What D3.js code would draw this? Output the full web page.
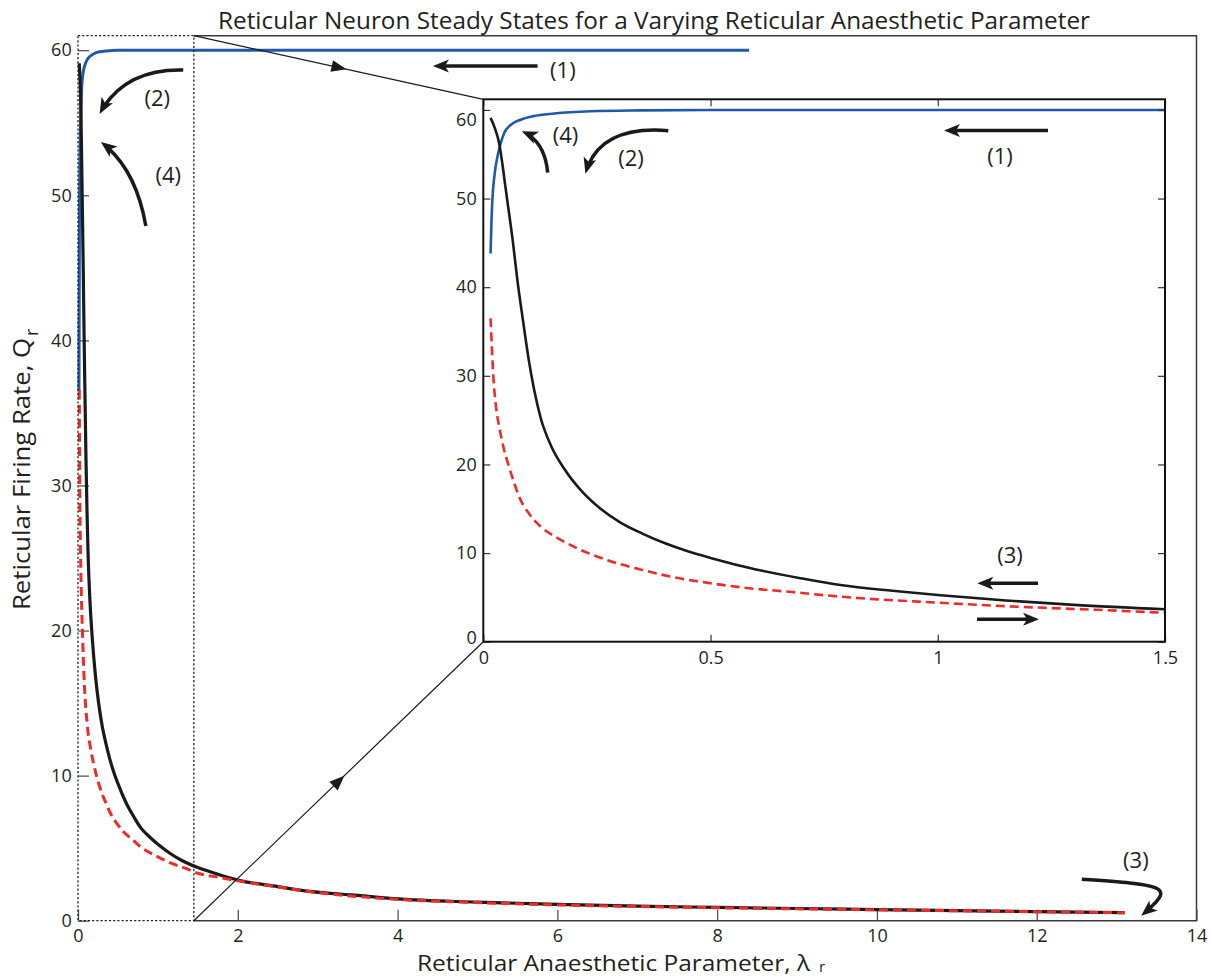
<!DOCTYPE html>
<html>
<head>
<meta charset="utf-8">
<script src="https://cdn.jsdelivr.net/npm/d3@7/dist/d3.min.js"></script>
<style>
  html, body { margin: 0; padding: 0; background: #fff; }
  svg { display: block; }
  text { font-family: "Open Sans", "Noto Sans", sans-serif; fill: #231f20; }
</style>
</head>
<body>
<svg id="chart" width="1211" height="978"></svg>
<script>
// ---------------- DATA ----------------
// Upper stable branch (blue)
const lambdaUpper = [0.016, 0.018, 0.020, 0.025, 0.031, 0.038, 0.046, 0.060, 0.082, 0.11, 0.156, 0.236, 0.35, 0.5, 1.0, 1.5, 3, 5, 8.4];
const qUpper      = [43.8, 47.5, 49.9, 52.8, 54.7, 56.2, 57.4, 58.3, 58.9, 59.3, 59.6, 59.85, 59.95, 60, 60, 60, 60, 60, 60];
// Middle unstable branch (red dashed)
const lambdaMiddle = [0.016, 0.019, 0.022, 0.028, 0.036, 0.045, 0.055, 0.068, 0.082, 0.1, 0.126, 0.16, 0.2, 0.273, 0.35, 0.419, 0.5, 0.566, 0.68, 0.786, 1.0, 1.174, 1.35, 1.5, 1.75, 2.0, 2.5, 3, 4, 5, 6, 8, 10, 12, 13.1];
const qMiddle      = [36.5, 33, 30, 26.5, 24, 21.8, 20, 17.9, 16, 14.5, 13, 11.8, 10.7, 9.2, 8.1, 7.27, 6.6, 6.14, 5.6, 5.08, 4.4, 3.95, 3.6, 3.27, 3.0, 2.75, 2.33, 1.94, 1.47, 1.25, 1.09, 0.89, 0.75, 0.62, 0.55];
// Lower stable branch (black)
const lambdaLower = [0.016, 0.025, 0.035, 0.042, 0.049, 0.056, 0.064, 0.075, 0.088, 0.1, 0.112, 0.126, 0.15, 0.177, 0.218, 0.258, 0.3, 0.35, 0.4, 0.45, 0.5, 0.6, 0.7, 0.786, 0.9, 1.0, 1.15, 1.3, 1.5, 1.75, 2.0, 2.5, 2.9, 3.5, 4, 5, 6, 7, 8, 9, 10, 11, 12, 13.1];
const qLower      = [59.1, 58.0, 56.2, 53.9, 51.2, 48.6, 45.6, 40.8, 36.0, 31.8, 28.4, 25.3, 22.0, 19.6, 16.9, 15.0, 13.5, 12.2, 11.1, 10.2, 9.45, 8.15, 7.15, 6.4, 5.75, 5.27, 4.65, 4.15, 3.66, 3.2, 2.8, 2.35, 2.02, 1.75, 1.5, 1.28, 1.12, 1.0, 0.92, 0.84, 0.77, 0.7, 0.63, 0.55];
// Saddle-node fold joining blue and red branches (main plot)
const foldPoint = [0.012, 36.5];
// Zoomed region
const zoomLambdaMax = 1.45;

// Ticks
const mainTicksX = [0, 2, 4, 6, 8, 10, 12, 14];
const mainTicksY = [0, 10, 20, 30, 40, 50, 60];
const insetTicksX = [0, 0.5, 1, 1.5];
const insetTicksY = [0, 10, 20, 30, 40, 50, 60];

// Texts
const titleText = "Reticular Neuron Steady States for a Varying Reticular Anaesthetic Parameter";
const xLabelText = "Reticular Anaesthetic Parameter, \u03BB";
const yLabelText = "Reticular Firing Rate, Q";
const subText = "r";

// Annotation arrows (data coordinates)
const mainArrows = [
  { label: "(1)", pts: [[5.752, 58.92], [4.455, 58.92]], lab: [6.069, 58.52] },
  { label: "(2)", pts: [[1.317, 58.64], [0.583, 58.74], [0.276, 55.67]], lab: [0.991, 56.58] },
  { label: "(4)", pts: [[0.849, 47.88], [0.727, 51.81], [0.297, 53.63]], lab: [1.129, 51.23] },
  { label: "(3)", pts: [[12.564, 2.854], [13.63, 2.461], [13.755, 2.392], [13.317, 0.393]], lab: [13.241, 4.046] }
];
const insetArrows = [
  { label: "(1)", pts: [[1.2425, 57.67], [1.0159, 57.67]], lab: [1.137, 54.62] },
  { label: "(4)", pts: [[0.1417, 52.92], [0.1353, 56.47], [0.0867, 57.54]], lab: [0.1809, 56.98] },
  { label: "(2)", pts: [[0.4071, 57.66], [0.2559, 58.30], [0.2253, 52.92]], lab: [0.325, 54.35] },
  { label: "(3)", pts: [[1.2206, 6.589], [1.0892, 6.589]], lab: [1.1589, 9.5] },
  { label: "",    pts: [[1.0863, 2.527], [1.2206, 2.527]], lab: null }
];

// ---------------- DRAW ----------------
const svg = d3.select("#chart");
svg.append("rect").attr("width", 1211).attr("height", 978).attr("fill", "#fff");

const BLUE = "#1f5aa8", RED = "#ee2b2b", BLACK = "#1a1a1a";

const xMain = d3.scaleLinear().domain([0, 14]).range([78, 1196.5]);
const yMain = d3.scaleLinear().domain([0, 61]).range([920.7, 35.7]);
const xIn = d3.scaleLinear().domain([0, 1.5]).range([483.3, 1165]);
const yIn = d3.scaleLinear().domain([0, 61.2]).range([641.7, 99.3]);

const zip = (a, b) => a.map((v, i) => [v, b[i]]);
const upper = zip(lambdaUpper, qUpper);
const middle = zip(lambdaMiddle, qMiddle);
const lower = zip(lambdaLower, qLower);

const defs = svg.append("defs");
defs.append("marker").attr("id", "ah")
  .attr("markerUnits", "userSpaceOnUse")
  .attr("viewBox", "-16 -8 18 16").attr("refX", 0).attr("refY", 0)
  .attr("markerWidth", 18).attr("markerHeight", 16).attr("orient", "auto")
  .append("path").attr("d", "M1,0 L-15,-6.5 L-11,0 L-15,6.5 Z").attr("fill", BLACK);
defs.append("clipPath").attr("id", "insetClip").append("rect")
  .attr("x", xIn(0)).attr("y", yIn(61.2)).attr("width", xIn(1.5) - xIn(0)).attr("height", yIn(0) - yIn(61.2));

// ---------- Main plot ----------
const gMain = svg.append("g");
const lineMain = d3.line().x(d => xMain(d[0])).y(d => yMain(d[1])).curve(d3.curveMonotoneX);

const x0 = xMain(0), x1 = xMain(14), y0 = yMain(0), y1 = yMain(61), xz = xMain(zoomLambdaMax);
gMain.append("path")
  .attr("d", `M${xz},${y1} L${x1},${y1} L${x1},${y0} L${xz},${y0}`)
  .attr("fill", "none").attr("stroke", "#3a3a3a").attr("stroke-width", 1.5);

const axMainX = gMain.append("g").attr("transform", `translate(0,${y0})`)
  .call(d3.axisBottom(xMain).tickValues(mainTicksX).tickSize(-11).tickPadding(8.5).tickFormat(d => String(d)));
const axMainY = gMain.append("g").attr("transform", `translate(${x0},0)`)
  .call(d3.axisLeft(yMain).tickValues(mainTicksY).tickSize(-11).tickPadding(6.3).tickFormat(d => String(d)));
[axMainX, axMainY].forEach(ax => {
  ax.select(".domain").remove();
  ax.selectAll("line").attr("stroke", "#555").attr("stroke-width", 1.3);
  ax.selectAll("text").attr("font-size", 18).attr("fill", "#231f20")
    .attr("font-family", '"Open Sans", sans-serif');
});

gMain.append("path").datum([foldPoint].concat(upper)).attr("d", lineMain)
  .attr("fill", "none").attr("stroke", BLUE).attr("stroke-width", 3).attr("stroke-linejoin", "round");
gMain.append("path").datum(lower).attr("d", lineMain)
  .attr("fill", "none").attr("stroke", BLACK).attr("stroke-width", 3.2).attr("stroke-linejoin", "round");
gMain.append("path").datum([foldPoint].concat(middle)).attr("d", lineMain)
  .attr("fill", "none").attr("stroke", RED).attr("stroke-width", 3).attr("stroke-dasharray", "9,5");

gMain.append("rect").attr("x", x0).attr("y", y1).attr("width", xz - x0).attr("height", y0 - y1)
  .attr("fill", "none").attr("stroke", "#222").attr("stroke-width", 1.3).attr("stroke-dasharray", "2.2,2");

// ---------- Connectors ----------
const connectors = [
  [[xz, y1], [xIn(0), yIn(61.2)]],
  [[xz, y0], [xIn(0), yIn(0)]]
];
connectors.forEach(([a, b]) => {
  svg.append("line").attr("x1", a[0]).attr("y1", a[1]).attr("x2", b[0]).attr("y2", b[1])
    .attr("stroke", BLACK).attr("stroke-width", 1.2);
  const ang = Math.atan2(b[1] - a[1], b[0] - a[0]) * 180 / Math.PI;
  const mx = (a[0] + b[0]) / 2, my = (a[1] + b[1]) / 2;
  svg.append("path").attr("d", "M8,0 L-7,-6 L-7,6 Z").attr("fill", BLACK)
    .attr("transform", `translate(${mx},${my}) rotate(${ang})`);
});

// ---------- Inset ----------
const gIn = svg.append("g");
gIn.append("rect").attr("x", xIn(0)).attr("y", yIn(61.2)).attr("width", xIn(1.5) - xIn(0)).attr("height", yIn(0) - yIn(61.2))
  .attr("fill", "#fff");
const lineIn = d3.line().x(d => xIn(d[0])).y(d => yIn(d[1])).curve(d3.curveMonotoneX);
const gInLines = gIn.append("g").attr("clip-path", "url(#insetClip)");
gInLines.append("path").datum(upper).attr("d", lineIn)
  .attr("fill", "none").attr("stroke", BLUE).attr("stroke-width", 2.6).attr("stroke-linejoin", "round");
gInLines.append("path").datum(lower).attr("d", lineIn)
  .attr("fill", "none").attr("stroke", BLACK).attr("stroke-width", 2.6).attr("stroke-linejoin", "round");
gInLines.append("path").datum(middle).attr("d", lineIn)
  .attr("fill", "none").attr("stroke", RED).attr("stroke-width", 2.6).attr("stroke-dasharray", "9,5");

const axInX = gIn.append("g").attr("transform", `translate(0,${yIn(0)})`)
  .call(d3.axisBottom(xIn).tickValues(insetTicksX).tickSize(-7).tickPadding(10).tickFormat(d => String(d)));
const axInY = gIn.append("g").attr("transform", `translate(${xIn(0)},0)`)
  .call(d3.axisLeft(yIn).tickValues(insetTicksY).tickSize(-7).tickPadding(6.6).tickFormat(d => String(d)));
const axInT = gIn.append("g").attr("transform", `translate(0,${yIn(61.2)})`)
  .call(d3.axisTop(xIn).tickValues(insetTicksX).tickSize(-7).tickFormat(""));
const axInR = gIn.append("g").attr("transform", `translate(${xIn(1.5)},0)`)
  .call(d3.axisRight(yIn).tickValues(insetTicksY).tickSize(-7).tickFormat(""));
[axInX, axInY, axInT, axInR].forEach(ax => {
  ax.select(".domain").remove();
  ax.selectAll("line").attr("stroke", "#333").attr("stroke-width", 1.2);
  ax.selectAll("text").attr("font-size", 18).attr("fill", "#231f20")
    .attr("font-family", '"Open Sans", sans-serif');
});
axInY.selectAll(".tick text").attr("dy", d => d === 60 ? "0.85em" : (d === 0 ? "0.1em" : "0.32em"));
gIn.append("rect").attr("x", xIn(0)).attr("y", yIn(61.2)).attr("width", xIn(1.5) - xIn(0)).attr("height", yIn(0) - yIn(61.2))
  .attr("fill", "none").attr("stroke", "#111").attr("stroke-width", 2);

// ---------- Annotation arrows ----------
function drawArrows(list, xs, ys) {
  list.forEach(a => {
    const p = a.pts.map(d => [xs(d[0]), ys(d[1])]);
    let dStr;
    if (p.length === 2) dStr = `M${p[0]}L${p[1]}`;
    else if (p.length === 3) dStr = `M${p[0]}Q${p[1]} ${p[2]}`;
    else dStr = `M${p[0]}C${p[1]} ${p[2]} ${p[3]}`;
    const path = svg.append("path").attr("d", dStr).attr("fill", "none")
      .attr("stroke", BLACK).attr("stroke-width", 3.5).attr("marker-end", "url(#ah)");
    const L = path.node().getTotalLength();
    path.attr("stroke-dasharray", `${L - 8} ${L + 20}`);
    if (a.lab) {
      svg.append("text").attr("x", xs(a.lab[0])).attr("y", ys(a.lab[1])).attr("dy", "0.27em")
        .attr("text-anchor", "middle").attr("font-size", 22).text(a.label);
    }
  });
}
drawArrows(mainArrows, xMain, yMain);
drawArrows(insetArrows, xIn, yIn);

// ---------- Titles ----------
svg.append("text").attr("x", 218).attr("y", 29).attr("font-size", 24)
  .attr("textLength", 872).attr("lengthAdjust", "spacingAndGlyphs").text(titleText);
svg.append("text").attr("x", 417).attr("y", 971).attr("font-size", 22)
  .attr("textLength", 393).attr("lengthAdjust", "spacingAndGlyphs").text(xLabelText);
svg.append("text").attr("x", 819).attr("y", 972).attr("font-size", 15).text(subText);
svg.append("text").attr("transform", "translate(30,610) rotate(-90)").attr("font-size", 24)
  .attr("textLength", 272).attr("lengthAdjust", "spacingAndGlyphs").text(yLabelText);
svg.append("text").attr("transform", "translate(38,336) rotate(-90)").attr("font-size", 18).text(subText);
</script>
</body>
</html>
